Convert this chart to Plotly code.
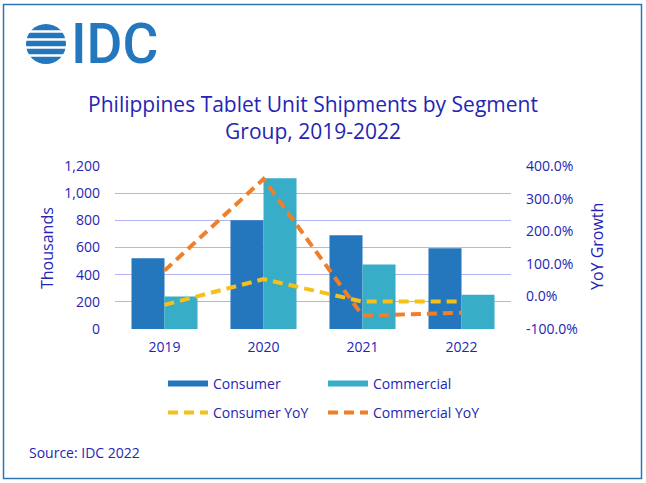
import plotly.graph_objects as go

years = ["2019", "2020", "2021", "2022"]
consumer = [520, 800, 690, 595]
commercial = [240, 1110, 475, 252]
consumer_yoy = [-0.26, 0.53, -0.16, -0.16]
commercial_yoy = [0.79, 3.60, -0.59, -0.50]

left_ticks = [0, 200, 400, 600, 800, 1000, 1200]
left_text = ["0", "200", "400", "600", "800", "1,000", "1,200"]
right_ticks = [-1.0, 0.0, 1.0, 2.0, 3.0, 4.0]
right_text = ["-100.0%", "0.0%", "100.0%", "200.0%", "300.0%", "400.0%"]

C_CONS = "#2577bd"
C_COMM = "#37adc8"
C_CYOY = "#f5c01a"
C_MYOY = "#f07f2a"
TXT = "#2525b5"
GRID = "#b4b4f0"
FONT = "Open Sans"

W, H = 646, 483
L, R, T, B = 115, 135, 166, 154
PW, PH = W - L - R, H - T - B


def fx(px):
    return (px - L) / PW


def fy(py):
    return (H - B - py) / PH


fig = go.Figure()
fig.add_trace(go.Bar(x=years, y=consumer, name="Consumer", marker_color=C_CONS,
                     marker_line_width=0, showlegend=False))
fig.add_trace(go.Bar(x=years, y=commercial, name="Commercial", marker_color=C_COMM,
                     marker_line_width=0, showlegend=False))
fig.add_trace(go.Scatter(x=years, y=consumer_yoy, name="Consumer YoY", yaxis="y2",
                         mode="lines", line=dict(color=C_CYOY, width=4, dash="10px,6px"),
                         legend="legend2"))
fig.add_trace(go.Scatter(x=years, y=commercial_yoy, name="Commercial YoY", yaxis="y2",
                         mode="lines", line=dict(color=C_MYOY, width=4, dash="10px,6px"),
                         legend="legend2"))
# legend-only swatches for bars (wide flat swatch as in reference)
fig.add_trace(go.Scatter(x=[None], y=[None], name="Consumer", mode="lines",
                         line=dict(color=C_CONS, width=6), legend="legend"))
fig.add_trace(go.Scatter(x=[None], y=[None], name="Commercial", mode="lines",
                         line=dict(color=C_COMM, width=6), legend="legend"))

shapes = [dict(type="rect", xref="paper", yref="paper", x0=fx(3.5), x1=fx(641.5),
               y0=fy(478.5), y1=fy(4.5), line=dict(color="#2e75b6", width=1.5),
               layer="below")]
# IDC logo: striped globe
cx, cy, r = 46, 44, 20
shapes.append(dict(type="circle", xref="paper", yref="paper", x0=fx(cx - r), x1=fx(cx + r),
                   y0=fy(cy + r), y1=fy(cy - r), fillcolor="#2577bd", line=dict(width=0)))
for gy in [31.5, 39.5, 47.5, 55.5]:
    shapes.append(dict(type="rect", xref="paper", yref="paper", x0=fx(24), x1=fx(68),
                       y0=fy(gy + 1.3), y1=fy(gy - 1.3), fillcolor="white", line=dict(width=0)))

annotations = [
    dict(text="IDC", xref="paper", yref="paper", x=fx(69), y=fy(44), xanchor="left",
         yanchor="middle", showarrow=False,
         font=dict(family="Roboto", size=55, color="#2577bd", weight=500)),
    dict(text="Thousands", xref="paper", yref="paper", x=fx(47), y=fy(248), textangle=-90,
         xanchor="center", yanchor="middle", showarrow=False,
         font=dict(family=FONT, size=16, color=TXT)),
    dict(text="YoY Growth", xref="paper", yref="paper", x=fx(597), y=fy(247), textangle=-90,
         xanchor="center", yanchor="middle", showarrow=False,
         font=dict(family=FONT, size=16, color=TXT)),
    dict(text="Source: IDC 2022", xref="paper", yref="paper", x=fx(27), y=fy(452),
         xanchor="left", yanchor="middle", showarrow=False,
         font=dict(family=FONT, size=14, color=TXT)),
]

fig.update_layout(
    width=W, height=H,
    margin=dict(l=L, r=R, t=T, b=B),
    paper_bgcolor="white", plot_bgcolor="white",
    font=dict(family=FONT, size=14, color=TXT),
    title=dict(text="Philippines Tablet Unit Shipments by Segment<br>Group, 2019-2022",
               x=0.5, xref="paper", xanchor="center", y=1 - 112 / H, yref="container",
               yanchor="middle", font=dict(family=FONT, size=21, color=TXT)),
    barmode="group", bargap=0.333, bargroupgap=0,
    xaxis=dict(type="category", showgrid=False, showline=False, ticks="",
               tickfont=dict(size=14, color=TXT), ticklabelstandoff=8),
    yaxis=dict(range=[0, 1200], tickvals=left_ticks, ticktext=left_text, showgrid=True,
               gridcolor=GRID, gridwidth=1, zeroline=False, showline=False, ticks="",
               tickfont=dict(size=14, color=TXT), ticklabelstandoff=14),
    yaxis2=dict(range=[-1.0, 4.0], tickvals=right_ticks, ticktext=right_text,
                overlaying="y", side="right", showgrid=False, zeroline=False,
                showline=False, ticks="", tickfont=dict(size=14, color=TXT),
                ticklabelstandoff=14),
    legend=dict(orientation="h", x=fx(163), y=fy(384), xref="paper", yref="paper",
                xanchor="left", yanchor="middle", entrywidth=105, entrywidthmode="pixels",
                itemwidth=40,
                font=dict(size=14, color=TXT), bgcolor="rgba(0,0,0,0)"),
    legend2=dict(orientation="h", x=fx(163), y=fy(413), xref="paper", yref="paper",
                 xanchor="left", yanchor="middle", entrywidth=105, entrywidthmode="pixels",
                 itemwidth=40,
                 font=dict(size=14, color=TXT), bgcolor="rgba(0,0,0,0)"),
    shapes=shapes,
    annotations=annotations,
)

fig.write_html("out.html", config={"displayModeBar": False},
               post_script="document.body.style.margin='0';")
